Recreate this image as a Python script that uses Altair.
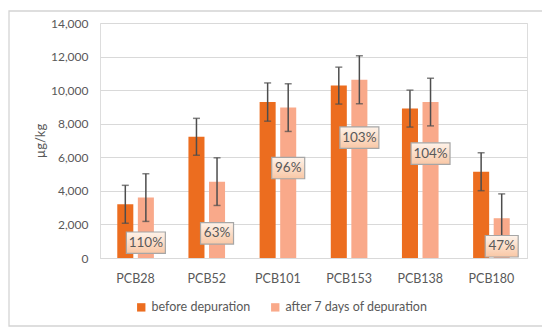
import altair as alt
import pandas as pd

categories = ["PCB28", "PCB52", "PCB101", "PCB153", "PCB138", "PCB180"]
series_names = ["before depuration", "after 7 days of depuration"]
before = [3200, 7220, 9290, 10270, 8900, 5140]
before_err = [1130, 1100, 1140, 1100, 1100, 1130]
after = [3600, 4550, 8960, 10620, 9290, 2370]
after_err = [1420, 1420, 1420, 1430, 1420, 1450]
pct_labels = ["110%", "63%", "96%", "103%", "104%", "47%"]
label_y = [910, 1470, 5360, 7170, 6220, 700]
y_ticks = [0, 2000, 4000, 6000, 8000, 10000, 12000, 14000]

rows = []
for i, c in enumerate(categories):
    rows.append({"cat": c, "series": series_names[0], "v": before[i],
                 "lo": before[i] - before_err[i], "hi": before[i] + before_err[i]})
    rows.append({"cat": c, "series": series_names[1], "v": after[i],
                 "lo": after[i] - after_err[i], "hi": after[i] + after_err[i]})
df = pd.DataFrame(rows)

lab = pd.DataFrame({"cat": categories, "series": series_names[1], "label": pct_labels,
                    "y": label_y})
lab["y0"] = lab["y"] - 640
lab["y1"] = lab["y"] + 640
lab["n"] = lab["label"].str.len()

DARK = "#EC6D1F"
LIGHT = "#F9A98A"
GRAY = "#595959"
FONT = "Lato"

yscale = alt.Scale(domain=[0, 14000], nice=False, zero=True)
yaxis = alt.Axis(values=y_ticks, format=",d", title="µg/kg")
x_enc = alt.X("cat:N", sort=categories, title=None,
              scale=alt.Scale(paddingInner=0, paddingOuter=0))
xo_enc = alt.XOffset("series:N", sort=series_names,
                     scale=alt.Scale(paddingInner=0.22, paddingOuter=0.84))


def Y(field):
    return alt.Y(field, type="quantitative", scale=yscale, axis=yaxis, title="µg/kg")


bars = alt.Chart(df).mark_bar().encode(
    x=x_enc,
    xOffset=xo_enc,
    y=Y("v"),
    color=alt.Color("series:N", sort=series_names,
                    scale=alt.Scale(domain=series_names, range=[DARK, LIGHT]),
                    legend=alt.Legend(title=None, orient="none", direction="horizontal",
                                      legendX=35, legendY=278, symbolType="square",
                                      symbolSize=70, symbolStrokeWidth=0,
                                      labelFontSize=12.5, labelColor=GRAY, labelFont=FONT,
                                      columnPadding=18, padding=0)),
)

rules = alt.Chart(df).mark_rule(color="#4D4D4D", strokeWidth=1.5).encode(
    x=x_enc, xOffset=xo_enc, y=Y("lo"), y2="hi:Q")
cap_lo = alt.Chart(df).mark_tick(color="#4D4D4D", size=7, thickness=1.5).encode(
    x=x_enc, xOffset=xo_enc, y=Y("lo"))
cap_hi = alt.Chart(df).mark_tick(color="#4D4D4D", size=7, thickness=1.5).encode(
    x=x_enc, xOffset=xo_enc, y=Y("hi"))

grad = alt.LinearGradient(gradient="linear",
                          stops=[alt.GradientStop(color="#FEF3EA", offset=0),
                                 alt.GradientStop(color="#F9C7A5", offset=1)],
                          x1=0, x2=0, y1=0, y2=1)

box4 = alt.Chart(lab).transform_filter("datum.n == 4").mark_bar(
    width=39, fill=grad, stroke="#A6A6A6", strokeWidth=1.2).encode(
    x=x_enc, xOffset=xo_enc, y=Y("y0"), y2="y1:Q")
box3 = alt.Chart(lab).transform_filter("datum.n == 3").mark_bar(
    width=33, fill=grad, stroke="#A6A6A6", strokeWidth=1.2).encode(
    x=x_enc, xOffset=xo_enc, y=Y("y0"), y2="y1:Q")
texts = alt.Chart(lab).mark_text(fontSize=13.5, color=GRAY, font=FONT).encode(
    x=x_enc, xOffset=xo_enc, y=Y("y"), text="label:N")

border = alt.Chart(pd.DataFrame({"a": [0]})).mark_rect(
    fill=None, stroke="#D4D4D4", strokeWidth=1.3).encode(
    x=alt.value(-91), x2=alt.value(443), y=alt.value(-12), y2=alt.value(303))

chart = alt.layer(border, bars, rules, cap_lo, cap_hi, box4, box3, texts).properties(
    width=427, height=235,
    padding={"left": 92, "top": 15, "right": 15, "bottom": 70},
    autosize=alt.AutoSizeParams(type="none"),
).configure_view(stroke=None).configure(background="white").configure_axisY(
    labelFontSize=12, labelColor=GRAY, labelFont=FONT,
    titleFont=FONT, titleFontSize=13, titleColor=GRAY,
    titleFontWeight="normal", domain=False, ticks=False,
    gridColor="#D9D9D9", labelPadding=12, titlePadding=3, labelOverlap=False,
).configure_axisX(
    labelAngle=0, labelFontSize=12.5, labelColor=GRAY, labelFont=FONT,
    ticks=False, domainColor="#D9D9D9", labelPadding=14, grid=False,
)

chart.save("out.html", embed_options={"renderer": "svg", "actions": False})
